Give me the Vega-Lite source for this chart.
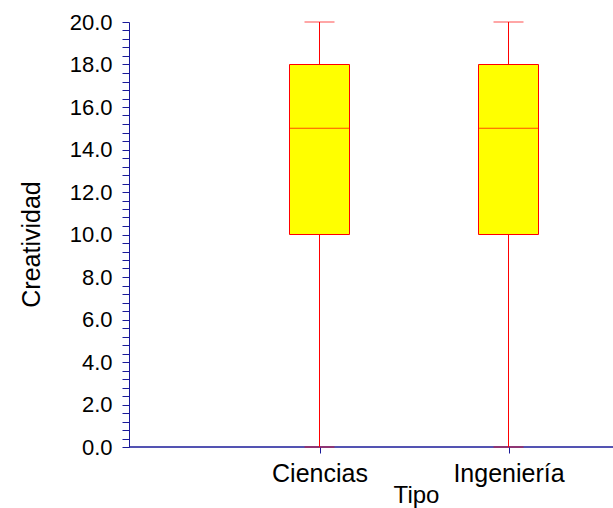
{
  "$schema": "https://vega.github.io/schema/vega-lite/v6.json",
  "autosize": {"type": "none"},
  "padding": {"left": 129, "top": 22, "right": 0, "bottom": 61},
  "width": 484,
  "height": 425,
  "background": "white",
  "config": {
    "view": {"stroke": null},
    "font": "Liberation Sans"
  },
  "data": {
    "values": [
      {"Tipo": "Ciencias", "min": 0, "q1": 10, "median": 15, "q3": 18, "max": 20},
      {"Tipo": "Ingeniería", "min": 0, "q1": 10, "median": 15, "q3": 18, "max": 20}
    ]
  },
  "encoding": {
    "x": {
      "field": "Tipo",
      "type": "nominal",
      "scale": {"type": "point", "domain": ["Ciencias", "Ingeniería"], "range": [190.5, 379.5], "padding": 0},
      "axis": {
        "title": "Tipo",
        "domain": false,
        "ticks": true,
        "tickSize": 6,
        "tickColor": "#1a1a99",
        "labelAngle": 0,
        "labelFont": "Liberation Sans",
        "labelFontSize": 25,
        "labelColor": "#000000",
        "labelPadding": 8,
        "titleFont": "Liberation Sans",
        "titleFontSize": 24,
        "titleFontWeight": "normal",
        "titleColor": "#000000",
        "titleX": 287,
        "titleY": 36,
        "titleAlign": "center",
        "titleBaseline": "top"
      }
    }
  },
  "layer": [
    {
      "mark": {"type": "rule", "color": "#1a1a99", "strokeWidth": 1},
      "encoding": {"x": null, "y": {"datum": 0, "type": "quantitative"}}
    },
    {
      "mark": {"type": "rule", "color": "#ff0000", "strokeWidth": 1},
      "encoding": {
        "y": {
          "field": "min",
          "type": "quantitative",
          "scale": {"domain": [0, 20], "nice": false, "zero": true},
          "axis": {
            "title": "Creatividad",
            "values": [0, 0.4, 0.8, 1.2, 1.6, 2, 2.4, 2.8, 3.2, 3.6, 4, 4.4, 4.8, 5.2, 5.6, 6, 6.4, 6.8, 7.2, 7.6, 8, 8.4, 8.8, 9.2, 9.6, 10, 10.4, 10.8, 11.2, 11.6, 12, 12.4, 12.8, 13.2, 13.6, 14, 14.4, 14.8, 15.2, 15.6, 16, 16.4, 16.8, 17.2, 17.6, 18, 18.4, 18.8, 19.2, 19.6, 20],
            "tickCount": 100,
            "labelExpr": "abs(datum.value / 2 - round(datum.value / 2)) < 0.001 ? format(datum.value, '.1f') : ''",
            "labelOverlap": false,
            "labelBound": false,
            "grid": false,
            "domain": true,
            "domainColor": "#1a1a99",
            "tickColor": "#1a1a99",
            "tickSize": 7,
            "labelPadding": 10,
            "labelFont": "Liberation Sans",
            "labelFontSize": 22,
            "labelColor": "#000000",
            "titleFont": "Liberation Sans",
            "titleFontSize": 25,
            "titleFontWeight": "normal",
            "titleColor": "#000000",
            "titleAngle": -90,
            "titleX": -90,
            "titleY": 222,
            "titleAlign": "center",
            "titleBaseline": "alphabetic"
          }
        },
        "y2": {"field": "max"}
      }
    },
    {
      "mark": {"type": "bar", "fill": "#ffff00", "stroke": "#ff0000", "strokeWidth": 1, "size": 60},
      "encoding": {
        "y": {"field": "q1", "type": "quantitative"},
        "y2": {"field": "q3"}
      }
    },
    {
      "mark": {"type": "tick", "color": "#ff0000", "size": 60, "thickness": 1},
      "encoding": {"y": {"field": "median", "type": "quantitative"}}
    },
    {
      "mark": {"type": "tick", "color": "#ff0000", "size": 30, "thickness": 1},
      "encoding": {"y": {"field": "min", "type": "quantitative"}}
    },
    {
      "mark": {"type": "tick", "color": "#ff0000", "size": 30, "thickness": 1},
      "encoding": {"y": {"field": "max", "type": "quantitative"}}
    }
  ]
}
